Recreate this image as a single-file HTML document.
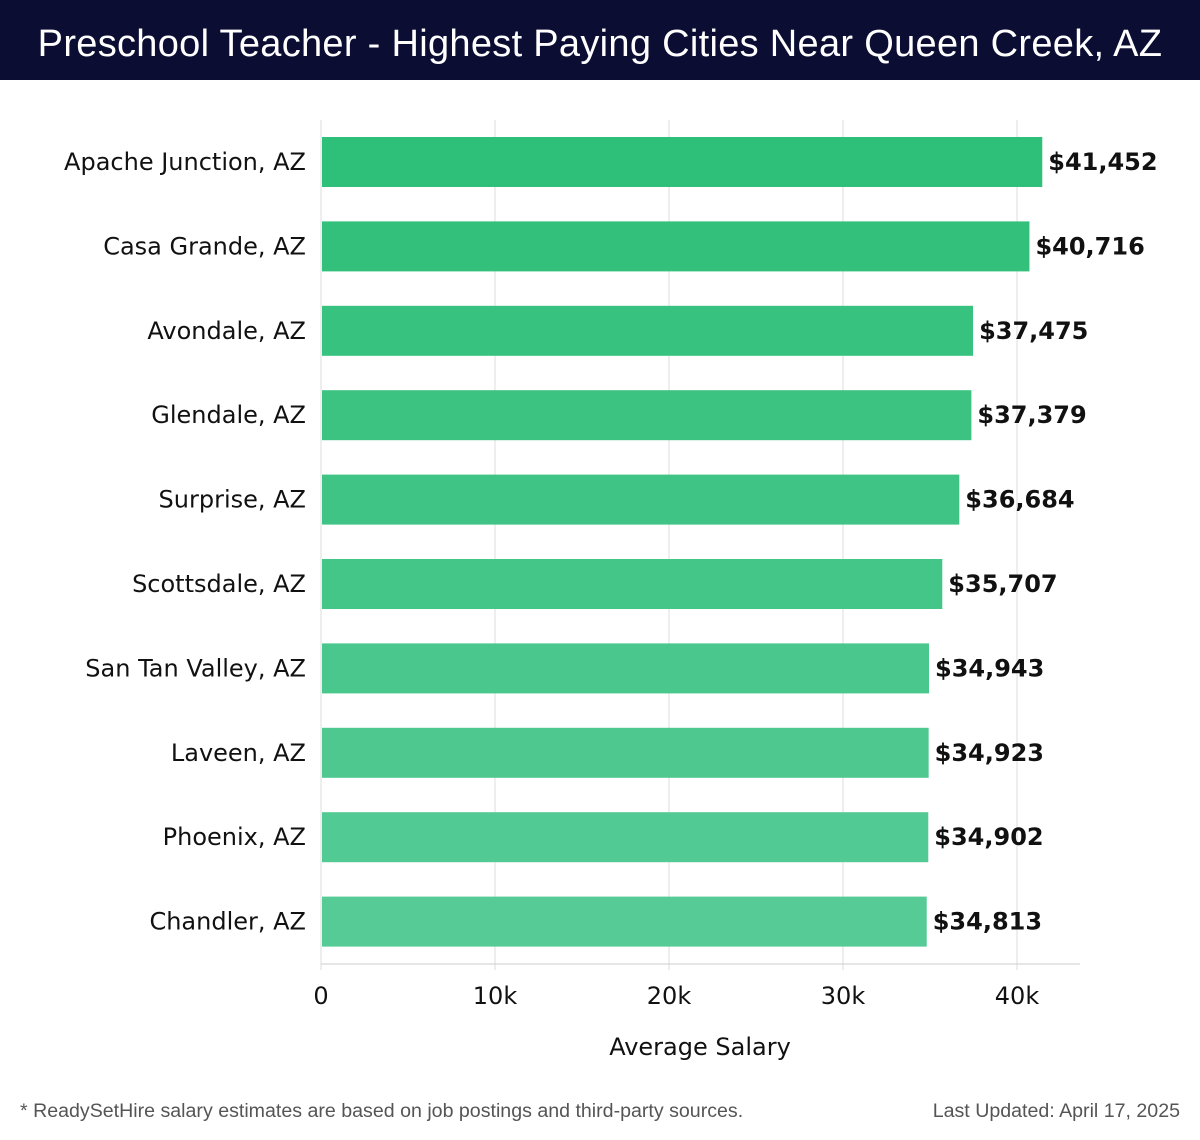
<!DOCTYPE html>
<html><head><meta charset="utf-8"><style>
body{margin:0;width:1200px;height:1140px;background:#fff;font-family:"DejaVu Sans","Liberation Sans",sans-serif;overflow:hidden}
#hdr{position:absolute;left:0;top:0;width:1200px;height:80px;background:#0b0d33;color:#fff;font-size:38px;letter-spacing:0.3px;text-align:center;line-height:88px;font-family:"Liberation Sans",sans-serif}
.ft{position:absolute;top:1100px;font-size:19.6px;color:#555;font-family:"Liberation Sans",sans-serif}
</style></head><body>
<div id="hdr">Preschool Teacher - Highest Paying Cities Near Queen Creek, AZ</div>
<svg id="c" width="1200" height="1140" style="position:absolute;left:0;top:0"></svg>
<div class="ft" style="left:20px">* ReadySetHire salary estimates are based on job postings and third-party sources.</div>
<div class="ft" style="right:20px">Last Updated: April 17, 2025</div>
<script>
const cities=["Apache Junction, AZ","Casa Grande, AZ","Avondale, AZ","Glendale, AZ","Surprise, AZ","Scottsdale, AZ","San Tan Valley, AZ","Laveen, AZ","Phoenix, AZ","Chandler, AZ"];
const salaries=[41452,40716,37475,37379,36684,35707,34943,34923,34902,34813];
const ticks=[0,10000,20000,30000,40000];
const tickLabels=["0","10k","20k","30k","40k"];
const NS="http://www.w3.org/2000/svg",svg=document.getElementById('c');
const x0=321,kScale=17.4/1000,plotTop=120,step=84.4,bh=50,plotBottom=964;
const X=v=>x0+v*kScale;
function mk(t,a,txt){const e=document.createElementNS(NS,t);for(const n in a)e.setAttribute(n,a[n]);if(txt!=null)e.textContent=txt;svg.appendChild(e);return e;}
ticks.forEach((t,i)=>{
 const g=mk('line',{x1:X(t),x2:X(t),y1:plotTop,y2:970,stroke:'#ddd','stroke-width':1});
 
 
 const l=mk('text',{x:X(t),y:1004,'text-anchor':'middle','font-size':24,fill:'#111'},tickLabels[i]);
 
 
});
const ax=mk('line',{x1:x0,x2:1080,y1:plotBottom,y2:plotBottom,stroke:'#ccc','stroke-width':1});


const at=mk('text',{x:700,y:1055,'text-anchor':'middle','font-size':24,fill:'#111'},'Average Salary');


const c1=[46,191,120],c2=[87,203,150];
cities.forEach((c,i)=>{
 const cy=plotTop+42+i*step,f=i/(cities.length-1);
 const col=`rgb(${c1.map((v,j)=>Math.round(v+(c2[j]-v)*f)).join(',')})`;
 const r=mk('rect',{x:x0+1,y:cy-bh/2,width:X(salaries[i])-x0-1,height:bh,fill:col});
 
 
 const lb=mk('text',{x:306,y:cy+8,'text-anchor':'end','font-size':24,fill:'#111'},c);
 
 
 const v=mk('text',{x:X(salaries[i])+6,y:cy+8,'font-size':24,'font-weight':'bold',fill:'#111'},'$'+salaries[i].toLocaleString('en-US'));
 
 
});
</script>
</body></html>
